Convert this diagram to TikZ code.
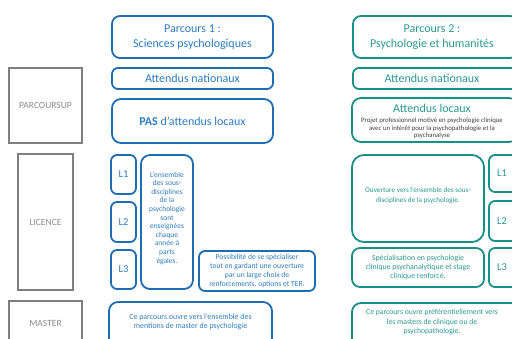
\documentclass[tikz,border=0pt]{standalone}
\usepackage{fontspec}
\setmainfont{Carlito}
\definecolor{bl}{HTML}{1F6DB0}
\definecolor{blt}{HTML}{2E7BBF}
\definecolor{tl}{HTML}{1A8F88}
\definecolor{tlt}{HTML}{2A9890}
\definecolor{gr}{HTML}{7F7F7F}
\definecolor{grt}{HTML}{8C8C8C}
\begin{document}
\begin{tikzpicture}[x=1pt,y=-1pt,
  bbox/.style={draw=bl,line width=1.8pt,rounded corners=6pt},
  tbox/.style={draw=tl,line width=1.8pt,rounded corners=6pt},
  gbox/.style={draw=gr,line width=1.7pt},
  btxt/.style={text=blt,align=center},
  ttxt/.style={text=tlt,align=center},
  gtxt/.style={text=grt,font=\fontsize{9.5}{11}\selectfont}]
\useasboundingbox (0,0) rectangle (512,338);
\clip (0,0) rectangle (512,338);
% gray side boxes
\draw[gbox] (9,68) rectangle (82,143);
\node[gtxt] (ps) at (45.5,105.5) {PARCOURSUP};
\draw[gbox] (18,154) rectangle (73,290);
\node[gtxt] (lic) at (45.5,222) {LICENCE};
\draw[gbox] (9,301) rectangle (82,345);
\node[gtxt] (mas) at (45.5,323) {MASTER};
% left column
\draw[bbox,rounded corners=8pt] (112,16) rectangle (273,58);
\node[btxt,font=\fontsize{12}{15}\selectfont] (p1) at (192.5,37) {Parcours 1 :\\Sciences psychologiques};
\draw[bbox] (112,68) rectangle (273,89);
\node[btxt,font=\fontsize{12}{14}\selectfont] (an1) at (192.5,78.5) {Attendus nationaux};
\draw[bbox,rounded corners=9pt] (112,99) rectangle (273,143);
\node[btxt,font=\fontsize{12}{14}\selectfont] (al1) at (192.5,121) {\textbf{PAS} d'attendus locaux};
\draw[bbox] (111,155) rectangle (136,194);
\node[btxt,font=\fontsize{10.5}{12}\selectfont] (l1a) at (123.5,174.5) {L1};
\draw[bbox] (111,202) rectangle (136,242);
\node[btxt,font=\fontsize{10.5}{12}\selectfont] (l2a) at (123.5,222) {L2};
\draw[bbox] (111,250) rectangle (136,289);
\node[btxt,font=\fontsize{10.5}{12}\selectfont] (l3a) at (123.5,269.5) {L3};
\draw[bbox,rounded corners=9pt] (141,155) rectangle (193,289);
\node[btxt,font=\fontsize{7.5}{8.6}\selectfont] (ens) at (167,218) {L'ensemble\\des sous-\\disciplines\\de la\\psychologie\\sont\\enseignées\\chaque\\année à\\parts\\égales.};
\draw[bbox] (199,251) rectangle (315,291);
\node[btxt,font=\fontsize{7.6}{8.8}\selectfont] (poss) at (257,271) {Possibilité de se spécialiser\\tout en gardant une ouverture\\par un large choix de\\renforcements, options et TER.};
\draw[bbox,rounded corners=9pt] (109,302) rectangle (272,350);
\node[btxt,font=\fontsize{7.9}{9.2}\selectfont] (m1) at (190.5,322) {Ce parcours ouvre vers l'ensemble des\\mentions de master de psychologie};
% right column
\draw[tbox,rounded corners=8pt] (353,16) rectangle (518,58);
\node[ttxt,font=\fontsize{12}{15}\selectfont] (p2) at (432,37) {Parcours 2 :\\Psychologie et humanités};
\draw[tbox] (353,68) rectangle (518,89);
\node[ttxt,font=\fontsize{12}{14}\selectfont] (an2) at (432,78.5) {Attendus nationaux};
\draw[tbox,rounded corners=9pt] (352,98) rectangle (518,142);
\node[ttxt,font=\fontsize{12}{14}\selectfont] (al2) at (432,108) {Attendus locaux};
\node[text=black!75,align=center,font=\fontsize{6.8}{7.6}\selectfont] (al2t) at (432,128.5) {Projet professionnel motivé en psychologie clinique\\avec un intérêt pour la psychopathologie et la\\psychanalyse};
\draw[tbox,rounded corners=12pt] (352,155) rectangle (484,242);
\node[ttxt,font=\fontsize{7.2}{10}\selectfont] (ouv) at (418,196) {Ouverture vers l'ensemble des sous-\\disciplines de la psychologie.};
\draw[tbox,rounded corners=8pt] (352,248) rectangle (484,287);
\node[ttxt,font=\fontsize{7.8}{9}\selectfont] (spe) at (418,267.5) {Spécialisation en psychologie\\clinique psychanalytique et stage\\clinique renforcé.};
\draw[tbox] (489,155) rectangle (520,192);
\node[ttxt,font=\fontsize{10.5}{12}\selectfont] (l1b) at (502,173.5) {L1};
\draw[tbox] (489,201) rectangle (520,241);
\node[ttxt,font=\fontsize{10.5}{12}\selectfont] (l2b) at (502,221) {L2};
\draw[tbox] (489,248) rectangle (520,287);
\node[ttxt,font=\fontsize{10.5}{12}\selectfont] (l3b) at (502,267.5) {L3};
\draw[tbox,rounded corners=9pt] (352,303) rectangle (520,350);
\node[ttxt,font=\fontsize{7.7}{9.2}\selectfont] (m2) at (432,322) {Ce parcours ouvre préférentiellement vers\\les masters de clinique ou de\\psychopathologie.};
\end{tikzpicture}
\end{document}
